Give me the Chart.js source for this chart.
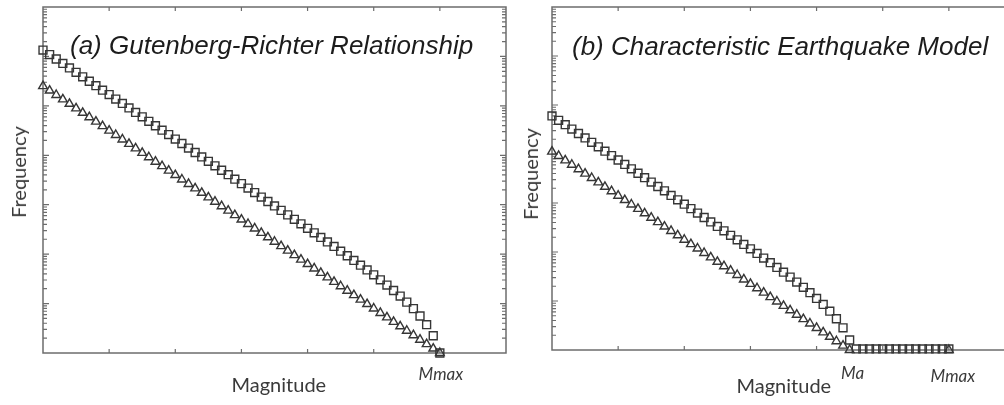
<!DOCTYPE html>
<html>
<head>
<meta charset="utf-8">
<script src="https://cdn.jsdelivr.net/npm/chart.js@4/dist/chart.umd.min.js"></script>
<style>
  html, body { margin: 0; padding: 0; background: #fff; overflow: hidden; }
  #stage { position: relative; width: 1004px; height: 405px; overflow: hidden; background: #fff; }
  canvas { position: absolute; top: 0; }
  .lbl { position: absolute; white-space: nowrap; line-height: 1; }
  .title { font-family: "Liberation Sans", Arial, sans-serif; font-style: italic; font-size: 26px; color: #1c1c1c; }
  .axis { font-family: "Lato", "DejaVu Sans", sans-serif; font-size: 20px; color: #3a3a3a; }
  .mark { font-family: "Lato", "DejaVu Sans", sans-serif; font-style: italic; font-size: 17px; color: #3a3a3a; transform: translateX(-50%); }
  .rot { transform: translate(-50%, -50%) rotate(-90deg); }
</style>
</head>
<body>
<div id="stage">
  <canvas id="panelA" width="520" height="405" style="left:0px"></canvas>
  <canvas id="panelB" width="560" height="405" style="left:520px"></canvas>

  <div class="lbl title" style="left:70px; top:32px">(a) Gutenberg-Richter Relationship</div>
  <div class="lbl title" style="left:572px; top:33px">(b) Characteristic Earthquake Model</div>
  <div class="lbl axis rot" style="left:18px; top:172px">Frequency</div>
  <div class="lbl axis rot" style="left:530px; top:174px">Frequency</div>
  <div class="lbl axis" id="magA" style="top:374px">Magnitude</div>
  <div class="lbl axis" id="magB" style="top:375px">Magnitude</div>
  <div class="lbl mark" id="mmaxA" style="top:365px">Mmax</div>
  <div class="lbl mark" id="maB" style="top:364px">Ma</div>
  <div class="lbl mark" id="mmaxB" style="top:367px">Mmax</div>
</div>

<script>
// Magnitude bins (0.1 steps) shared by both panels
const MAGNITUDE = [2.0,2.1,2.2,2.3,2.4,2.5,2.6,2.7,2.8,2.9,3.0,3.1,3.2,3.3,3.4,3.5,3.6,3.7,3.8,3.9,
  4.0,4.1,4.2,4.3,4.4,4.5,4.6,4.7,4.8,4.9,5.0,5.1,5.2,5.3,5.4,5.5,5.6,5.7,5.8,5.9,
  6.0,6.1,6.2,6.3,6.4,6.5,6.6,6.7,6.8,6.9,7.0,7.1,7.2,7.3,7.4,7.5,7.6,7.7,7.8,7.9,8.0];

const M_A = 6.5;     // characteristic magnitude
const M_MAX = 8.0;   // maximum magnitude
const X_MIN = 2, X_MAX = 9;
const Y_MIN = 1, Y_MAX = 1e7;

// (a) Gutenberg-Richter: cumulative (squares) and incremental (triangles)
const GR_CUMULATIVE = [1342000,1091000,887000,721000,586000,476000,387000,315000,256000,208000,
  169000,137000,112000,90700,73700,59900,48700,39600,32200,26200,
  21300,17300,14000,11400,9280,7540,6130,4980,4050,3290,
  2670,2170,1760,1430,1160,946,768,623,506,410,
  333,270,218,177,143,115,92.9,74.7,59.9,47.9,
  38.1,30.2,23.7,18.4,14.2,10.7,7.9,5.61,3.74,2.23,1];
const GR_INCREMENTAL = [251000,204000,166000,135000,110000,89100,72400,58900,47900,38900,
  31600,25700,20900,17000,13800,11200,9120,7410,6030,4900,
  3980,3240,2630,2140,1740,1410,1150,933,759,617,
  501,407,331,269,219,178,145,118,95.5,77.6,
  63.1,51.3,41.7,33.9,27.5,22.4,18.2,14.8,12.0,9.77,
  7.94,6.46,5.25,4.27,3.47,2.82,2.29,1.86,1.51,1.23,1];

// (b) Characteristic earthquake model
const CH_CUMULATIVE = [59900,48700,39600,32200,26200,21300,17300,14000,11400,9280,
  7540,6130,4980,4050,3290,2670,2170,1770,1430,1160,
  946,768,624,506,411,333,270,219,177,143,
  116,93.5,75.3,60.5,48.5,38.7,30.8,24.3,19.0,14.8,
  11.3,8.5,6.2,4.34,2.83,1.6,
  1.05,1.05,1.05,1.05,1.05,1.05,1.05,1.05,1.05,1.05,1.05,1.05,1.05,1.05,1.05];
const CH_INCREMENTAL = [11200,9120,7410,6030,4900,3980,3240,2630,2140,1740,
  1410,1150,933,759,617,501,407,331,269,219,
  178,145,118,95.5,77.6,63.1,51.3,41.7,33.9,27.5,
  22.4,18.2,14.8,12.0,9.77,7.94,6.46,5.25,4.27,3.47,
  2.82,2.29,1.86,1.51,1.23,1,
  null,null,null,null,null,null,null,null,null,null,null,null,null,null,1];

const INK = '#363636';
const FRAME = '#6c6c6c';

function toPoints(values) {
  return MAGNITUDE.map((m, i) => ({ x: m, y: values[i] }));
}

function markerSet(values, style, radius) {
  return {
    data: toPoints(values),
    showLine: false,
    pointStyle: style,
    pointRadius: radius,
    pointHoverRadius: radius,
    pointBorderWidth: 1.4,
    pointBorderColor: INK,
    pointBackgroundColor: 'rgba(0,0,0,0)',
    clip: false
  };
}

// Frame with inward-pointing ticks: integer magnitudes on top/bottom, log ticks left/right
const framePlugin = {
  id: 'frame',
  beforeDatasetsDraw(chart) {
    const { ctx, chartArea: a, scales } = chart;
    const xs = scales.x, ys = scales.y;
    ctx.save();
    ctx.strokeStyle = FRAME;
    ctx.lineWidth = 1.5;
    ctx.strokeRect(a.left, a.top, a.right - a.left, a.bottom - a.top);
    ctx.lineWidth = 1.2;
    ctx.beginPath();
    for (let v = X_MIN + 1; v < X_MAX; v++) {
      const px = xs.getPixelForValue(v);
      ctx.moveTo(px, a.top); ctx.lineTo(px, a.top + 4);
      ctx.moveTo(px, a.bottom); ctx.lineTo(px, a.bottom - 4);
    }
    for (let d = 1; d < Y_MAX; d *= 10) {
      for (let m = 1; m <= 9; m++) {
        const v = m * d;
        if (v <= Y_MIN) continue;
        const py = ys.getPixelForValue(v);
        const len = m === 1 ? 6 : 4;
        ctx.moveTo(a.left, py); ctx.lineTo(a.left + len, py);
        ctx.moveTo(a.right, py); ctx.lineTo(a.right - len, py);
      }
    }
    ctx.stroke();
    ctx.restore();
  }
};

function makePanel(id, squares, triangles, padding) {
  return new Chart(document.getElementById(id), {
    type: 'scatter',
    data: {
      datasets: [
        markerSet(triangles, 'triangle', 5.0),
        markerSet(squares, 'rect', 5.6)
      ]
    },
    options: {
      responsive: false,
      animation: false,
      layout: { padding },
      plugins: { legend: { display: false }, tooltip: { enabled: false }, title: { display: false } },
      scales: {
        x: { type: 'linear', min: X_MIN, max: X_MAX, display: false },
        y: { type: 'logarithmic', min: Y_MIN, max: Y_MAX, display: false }
      }
    },
    plugins: [framePlugin]
  });
}

const chartA = makePanel('panelA', GR_CUMULATIVE, GR_INCREMENTAL, { left: 43, top: 5, right: 14, bottom: 52 });
const chartB = makePanel('panelB', CH_CUMULATIVE, CH_INCREMENTAL, { left: 32, top: 5, right: 65, bottom: 55 });

// Place magnitude markers and axis titles from the scales
function placeAt(elId, px) {
  document.getElementById(elId).style.left = px + 'px';
}
placeAt('mmaxA', chartA.scales.x.getPixelForValue(M_MAX) + 1);
placeAt('maB', 520 + chartB.scales.x.getPixelForValue(M_A) + 3);
placeAt('mmaxB', 520 + chartB.scales.x.getPixelForValue(M_MAX) + 4);
const magA = document.getElementById('magA');
magA.style.left = (279 - magA.offsetWidth / 2) + 'px';
const magB = document.getElementById('magB');
magB.style.left = (784 - magB.offsetWidth / 2) + 'px';
</script>
</body>
</html>
